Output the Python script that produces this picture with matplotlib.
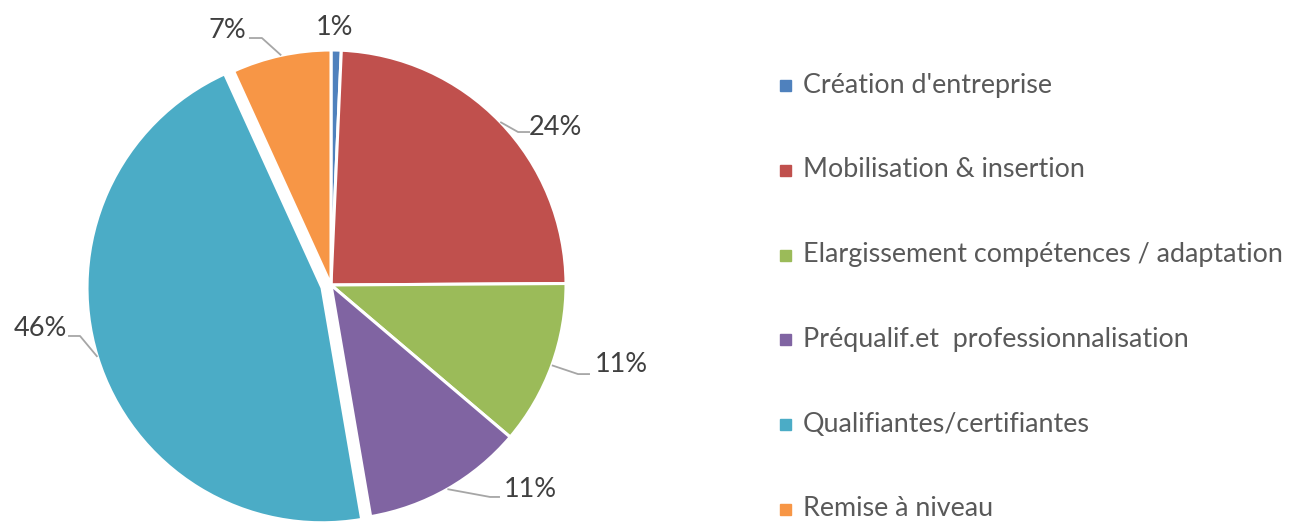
import numpy as np
import matplotlib
matplotlib.use("Agg")
import matplotlib.pyplot as plt
from matplotlib.patches import Rectangle

categories = ["Création d'entreprise", "Mobilisation & insertion",
              "Elargissement compétences / adaptation",
              "Préqualif.et  professionnalisation",
              "Qualifiantes/certifiantes", "Remise à niveau"]
values = [0.7, 24.2, 11.3, 11.1, 45.9, 6.8]
colors = ["#4F81BD", "#C0504D", "#9BBB59", "#8064A2", "#4BACC6", "#F79646"]
explode = [0, 0, 0, 0, 0.04, 0]

# label layout (data coords): text centre, line end, elbow
label_text_pos = [(0.017, 1.094), (0.957, 0.672), (1.234, -0.340),
                  (0.847, -0.872), (-1.238, -0.183), (-0.443, 1.085)]
line_end = [None, (0.847, 0.651), (1.102, -0.379), (0.719, -0.902),
            (-1.119, -0.217), (-0.349, 1.051)]
elbow = [None, (0.796, 0.651), (1.051, -0.379), (0.677, -0.902),
         (-1.068, -0.217), (-0.294, 1.051)]

plt.rcParams['font.family'] = ['Lato', 'DejaVu Sans']
W, H = 1292, 522
fig = plt.figure(figsize=(W / 100, H / 100), dpi=100)
ax = fig.add_axes([0, 0, 700 / W, 1])

wedges, _ = ax.pie(values, colors=colors, explode=explode, startangle=90,
                   counterclock=False, radius=1.0,
                   wedgeprops=dict(edgecolor='white', linewidth=2.2))
ax.set_xlim((0 - 331) / 235, (700 - 331) / 235)
ax.set_ylim((285 - 522) / 235, (285 - 0) / 235)
ax.set_aspect('auto')
ax.axis('off')

for i, w in enumerate(wedges):
    pct = f"{round(values[i])}%"
    tx, ty = label_text_pos[i]
    ax.text(tx, ty, pct, ha='center', va='center', fontsize=19.5, color='#404040')
    if line_end[i] is not None:
        mid = np.deg2rad((w.theta1 + w.theta2) / 2)
        cx, cy = w.center
        ax_ = cx + 1.0 * np.cos(mid)
        ay_ = cy + 1.0 * np.sin(mid)
        ex, ey = elbow[i]
        lx, ly = line_end[i]
        ax.plot([ax_, ex, lx], [ay_, ey, ly], color='#A6A6A6', lw=1.3,
                solid_capstyle='butt', clip_on=False)

# legend
for i, (cat, col) in enumerate(zip(categories, colors)):
    yc = 85 + i * 84.8
    fig.patches.append(Rectangle(((780) / W, 1 - (yc + 6) / H), 11 / W, 11 / H,
                                 transform=fig.transFigure, color=col))
    fig.text(803 / W, 1 - yc / H, cat, ha='left', va='center', fontsize=19.4,
             color='#595959')

fig.savefig("out.png", dpi=100)
